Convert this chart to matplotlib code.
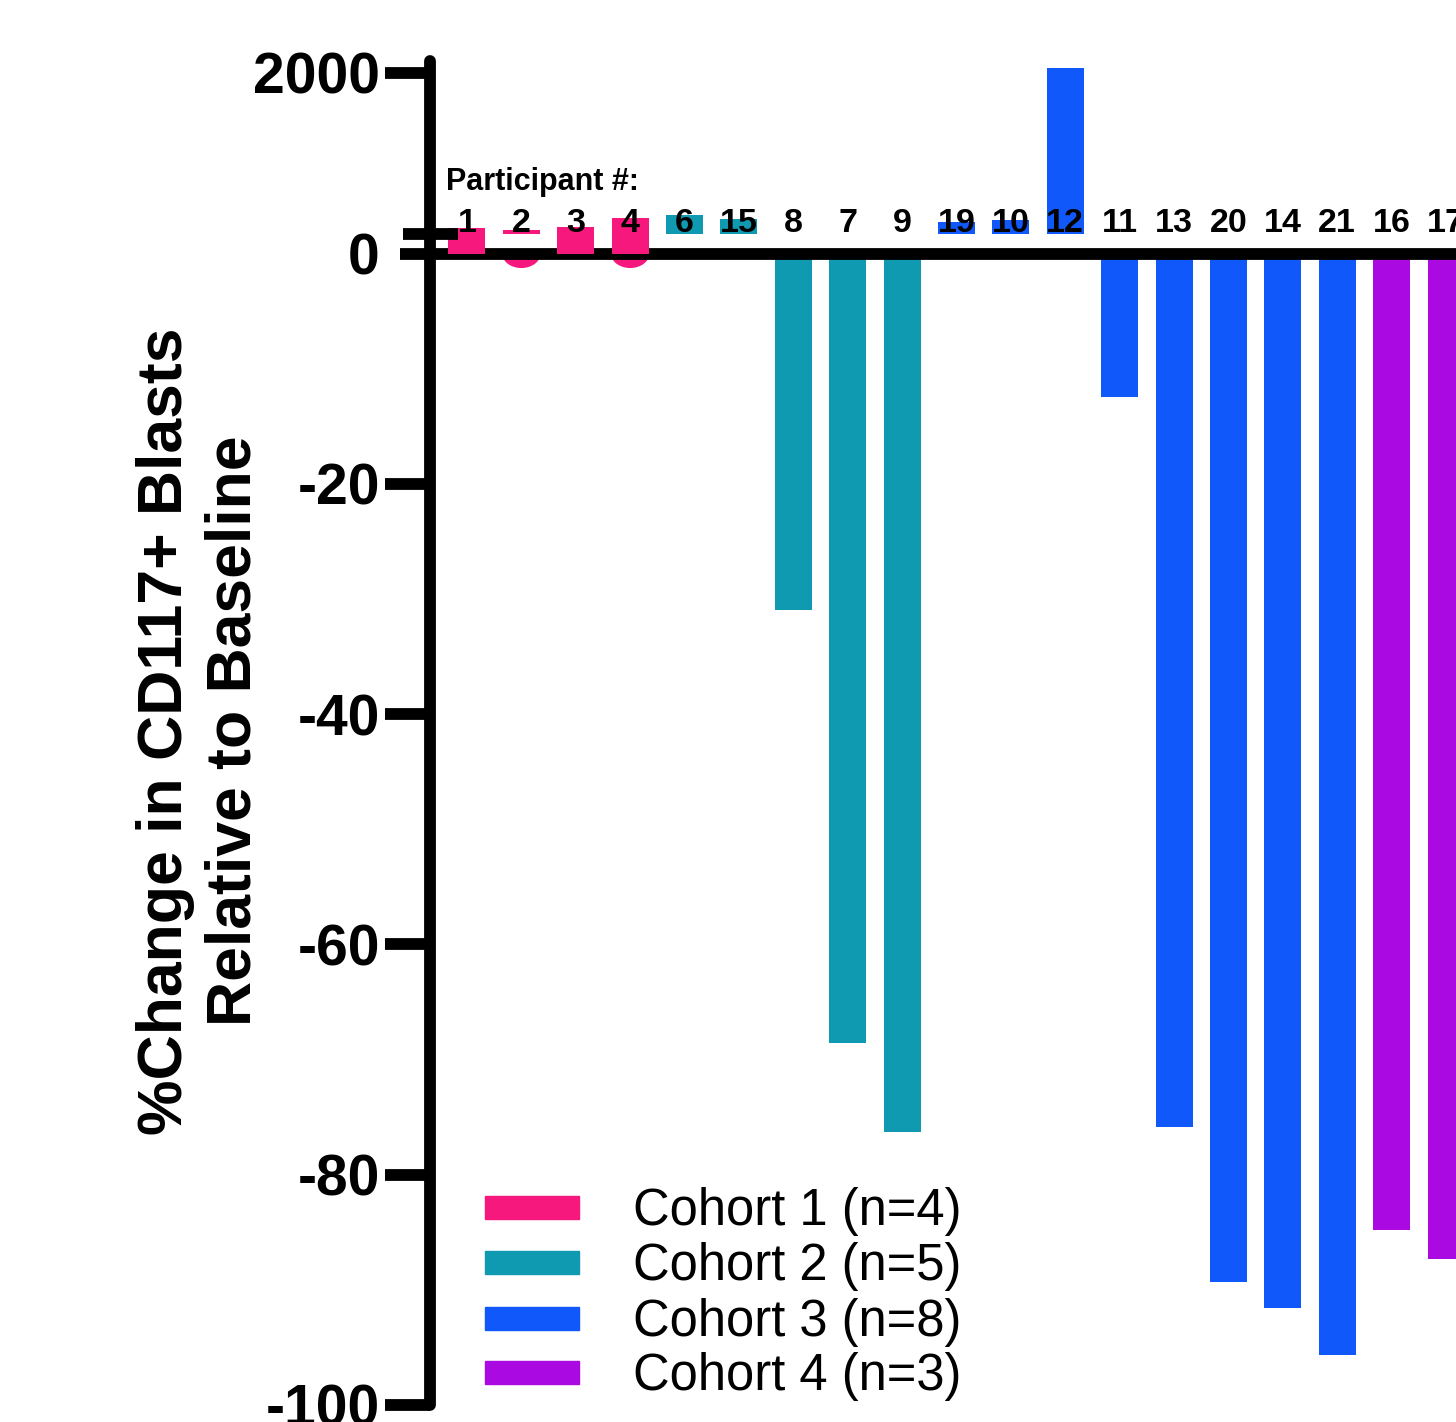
import matplotlib
matplotlib.use("Agg")
import matplotlib.pyplot as plt
from matplotlib.patches import Rectangle, Ellipse
import numpy as np

# ---------------- data ----------------
participants = ["1", "2", "3", "4", "6", "15", "8", "7", "9", "19", "10", "12",
                "11", "13", "20", "14", "21", "16", "17"]
cohort = [1, 1, 1, 1, 2, 2, 2, 2, 2, 3, 3, 3, 3, 3, 3, 3, 3, 4, 4]
pct_change = [75, 50, 87, 199, 236, 186, -31.0, -68.6, -76.3, 149, 174, 2062,
              -12.5, -75.9, -89.3, -91.6, -95.7, -84.8, -87.3]
gap_fill_participants = ["1", "3", "4"]
below_blob_participants = ["2", "4"]
blob_depth = 1.2
cohort_labels = ["Cohort 1 (n=4)", "Cohort 2 (n=5)", "Cohort 3 (n=8)", "Cohort 4 (n=3)"]
cohort_colors = ["#F7187E", "#109AB2", "#1158FA", "#AA0AE1"]
lower_ticks = [-20, -40, -60, -80, -100]
upper_ticks = [2000]

# ---------------- layout helpers ----------------
W, H = 1456, 1422
DPI = 100
def fx(px): return px / W
def fy(py): return 1 - py / H
PT = 72 / DPI  # points per pixel

plt.rcParams['font.family'] = ['Liberation Sans', 'DejaVu Sans']

fig = plt.figure(figsize=(W / DPI, H / DPI), dpi=DPI)

x_left_px, zero_low_px, bottom_px = 430, 253.5, 1405
top_px, zero_up_px, t2000_px = 61, 234, 73

ax_lo = fig.add_axes([fx(x_left_px), fy(bottom_px), 1 - fx(x_left_px), fy(zero_low_px) - fy(bottom_px)])
ax_up = fig.add_axes([fx(x_left_px), fy(zero_low_px), 1 - fx(x_left_px), fy(top_px) - fy(zero_low_px)],
                     sharex=ax_lo)

upp = 2000 / (zero_up_px - t2000_px)
up_min = -(zero_low_px - zero_up_px) * upp
up_max = 2000 + (t2000_px - top_px) * upp

x = np.arange(len(participants))
vals = np.array(pct_change, dtype=float)
colors = [cohort_colors[c - 1] for c in cohort]
bw = 0.68

# lower part (negative values)
ax_lo.bar(x, np.minimum(vals, 0), width=bw, color=colors, zorder=1)
for p in below_blob_participants:
    i = participants.index(p)
    ax_lo.add_patch(Ellipse((x[i], 0), bw, 2 * blob_depth, color=colors[i], zorder=1))

# upper part (positive values)
bottoms = np.array([up_min if p in gap_fill_participants else 0.0 for p in participants])
pos = np.maximum(vals, 0)
heights = np.where(pos > 0, pos - bottoms, 0)
ax_up.bar(x, heights, bottom=bottoms, width=bw, color=colors, zorder=1)

ax_lo.set_ylim(-100, 0)
ax_up.set_ylim(up_min, up_max)
ax_lo.set_xlim(-0.68, (W - 467) / 54.39)

LW = 8.5
for ax in (ax_lo, ax_up):
    for s in ax.spines.values():
        s.set_linewidth(LW)
    ax.spines['right'].set_visible(False)
    ax.spines['bottom'].set_visible(False)
    ax.spines['left'].set_capstyle('round')
    ax.tick_params(axis='x', bottom=False, labelbottom=False, top=False)
    ax.set_facecolor('none')
ax_up.spines['top'].set_visible(False)
ax_lo.spines['top'].set_visible(True)
ax_lo.spines['top'].set_capstyle('butt')

tick_font = dict(fontsize=41, fontweight='bold')
# lower ticks
ax_lo.set_yticks(lower_ticks)
ax_lo.set_yticklabels([str(t) for t in lower_ticks], **tick_font)
ax_lo.tick_params(axis='y', which='major', length=45 * PT, width=LW, pad=5 * PT)
ax_lo.set_yticks([0], minor=True)
ax_lo.set_yticklabels(["0"], minor=True, **tick_font)
ax_lo.tick_params(axis='y', which='minor', length=30 * PT, width=LW, pad=20 * PT)

# upper ticks
ax_up.set_yticks(upper_ticks)
ax_up.set_yticklabels([str(t) for t in upper_ticks], **tick_font)
ax_up.tick_params(axis='y', which='major', length=45 * PT, width=LW, pad=5 * PT)
ax_up.set_yticks([0], minor=True)
ax_up.set_yticklabels([""], minor=True)
ax_up.tick_params(axis='y', which='minor', direction='inout', length=55 * PT, width=LW)

# participant numbers
num_y = (zero_up_px - 232) * upp
for xi, p in zip(x, participants):
    ax_up.text(xi, num_y, p, ha='center', va='baseline', fontsize=24.5,
               fontweight='bold', zorder=5, clip_on=False)
ax_up.text((446 - 467) / 54.39, (zero_up_px - 190) * upp, "Participant #:",
           ha='left', va='baseline', fontsize=22, fontweight='bold', zorder=5)

# y label
fig.text(fx(200), fy(731), "%Change in CD117+ Blasts\nRelative to Baseline",
         rotation=90, ha='center', va='center', multialignment='center',
         fontsize=45, fontweight='bold', linespacing=1.2)

# legend (manual)
row_centers = [1207, 1262, 1318, 1372]
for yc, lab, col in zip(row_centers, cohort_labels, cohort_colors):
    fig.add_artist(Rectangle((fx(485), fy(yc + 11.5)), 94 / W, 23 / H,
                             transform=fig.transFigure, color=col))
    fig.text(fx(633), fy(yc + 18), lab, ha='left', va='baseline', fontsize=36.5)

fig.savefig("out.png", dpi=DPI)
